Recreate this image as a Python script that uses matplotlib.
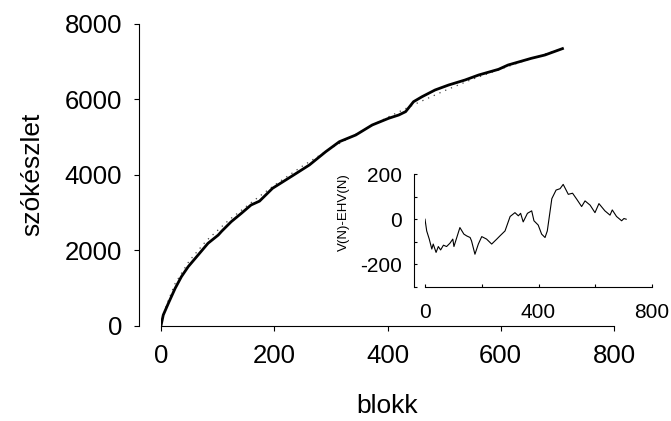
import matplotlib
matplotlib.use('Agg')
import matplotlib.pyplot as plt

plt.rcParams['font.family'] = ['Liberation Sans', 'DejaVu Sans']
plt.rcParams['axes.unicode_minus'] = False

# ---- main chart data ----
blokk_obs = [0, 4, 13, 25, 36, 48, 63, 83, 101, 107, 124, 142, 159, 174, 197, 233, 262,
             291, 315, 344, 373, 402, 420, 432, 446, 461, 484, 508, 537, 561, 596, 613,
             654, 678, 709]
v_obs = [0, 283, 593, 990, 1298, 1563, 1828, 2183, 2400, 2500, 2755, 2978, 3197, 3300,
         3640, 3980, 4257, 4610, 4874, 5052, 5317, 5494, 5582, 5670, 5934, 6066, 6244,
         6376, 6509, 6641, 6791, 6906, 7083, 7171, 7340]

blokk_exp = [0, 4, 10, 25, 50, 80, 120, 160, 200, 250, 300, 350, 400, 450, 500, 550, 600,
             650, 709]
ehv = [0, 300, 560, 1120, 1720, 2250, 2800, 3270, 3720, 4230, 4700, 5120, 5520, 5880,
       6220, 6530, 6800, 7060, 7340]

# ---- inset data: V(N)-EHV(N) ----
blokk_diff = [0, 6, 15, 24, 29, 39, 47, 55, 65, 76, 88, 98, 102, 112, 123, 137, 147, 159,
              164, 176, 188, 200, 217, 235, 253, 264, 282, 300, 317, 329, 337, 346, 361,
              376, 384, 399, 411, 423, 431, 447, 462, 476, 487, 505, 520, 535, 552, 564,
              582, 599, 613, 634, 652, 660, 675, 693, 701, 709]
diff = [0, -52, -88, -132, -110, -147, -121, -136, -115, -121, -106, -88, -121, -81, -37,
        -66, -74, -81, -96, -155, -110, -77, -88, -110, -88, -74, -52, 12, 29, 15, 26, -12,
        26, 37, -7, -26, -66, -81, -52, 91, 129, 135, 154, 110, 115, 88, 56, 81, 62, 29,
        69, 37, 18, 41, 12, -7, 3, 0]

main_xticks = [0, 200, 400, 600, 800]
main_yticks = [0, 2000, 4000, 6000, 8000]
inset_xticks = [0, 200, 400, 600, 800]
inset_xticklabels = ['0', '', '400', '', '800']
inset_yticks = [200, 100, 0, -100, -200, -300]
inset_yticklabels = ['200', '', '0', '', '-200', '']

W, H = 671, 421
fig = plt.figure(figsize=(W / 100, H / 100), dpi=100)

def px(v):
    return v * 72 / 100

# main axes
ax = fig.add_axes([161 / W, (H - 325.7) / H, 453 / W, 302 / H])
ax.plot(blokk_exp, ehv, color='#444444', lw=0.9, ls=(0, (1, 4)))
ax.plot(blokk_obs, v_obs, color='black', lw=2.0, solid_joinstyle='round')
ax.set_xlim(0, 800)
ax.set_ylim(0, 8000)
ax.set_xticks(main_xticks)
ax.set_yticks(main_yticks)
for s in ['top', 'right']:
    ax.spines[s].set_visible(False)
ax.spines['left'].set_position(('outward', px(22)))
for s in ['left', 'bottom']:
    ax.spines[s].set_linewidth(0.8)
ax.tick_params(direction='out', length=px(5), width=0.8, labelsize=18.5)
ax.tick_params(axis='y', pad=px(12))
ax.tick_params(axis='x', pad=px(13))
ax.set_ylabel('szókészlet', fontsize=19, ha='center', va='center')
ax.yaxis.set_label_coords(-0.285, 0.5)
ax.set_xlabel('blokk', fontsize=19, ha='center', va='center')
ax.xaxis.set_label_coords(0.5, -0.265)
ax.patch.set_alpha(0)

# inset axes
ax2 = fig.add_axes([425 / W, (H - 287) / H, 227 / W, 113 / H])
ax2.plot(blokk_diff, diff, color='black', lw=0.8)
ax2.set_xlim(0, 800)
ax2.set_ylim(-300, 200)
ax2.set_xticks(inset_xticks)
ax2.set_xticklabels(inset_xticklabels)
ax2.set_yticks(inset_yticks)
ax2.set_yticklabels(inset_yticklabels)
for s in ['top', 'right']:
    ax2.spines[s].set_visible(False)
ax2.spines['left'].set_position(('outward', px(11)))
for s in ['left', 'bottom']:
    ax2.spines[s].set_linewidth(0.8)
ax2.tick_params(direction='in', length=px(3), width=0.8, labelsize=15)
ax2.tick_params(axis='y', pad=px(12))
ax2.tick_params(axis='x', pad=px(16))
ax2.set_ylabel('V(N)-EHV(N)', fontsize=9.5, ha='center', va='center')
ax2.yaxis.set_label_coords(-0.355, 0.66)
ax2.patch.set_alpha(0)

fig.savefig('out.png', dpi=100)
